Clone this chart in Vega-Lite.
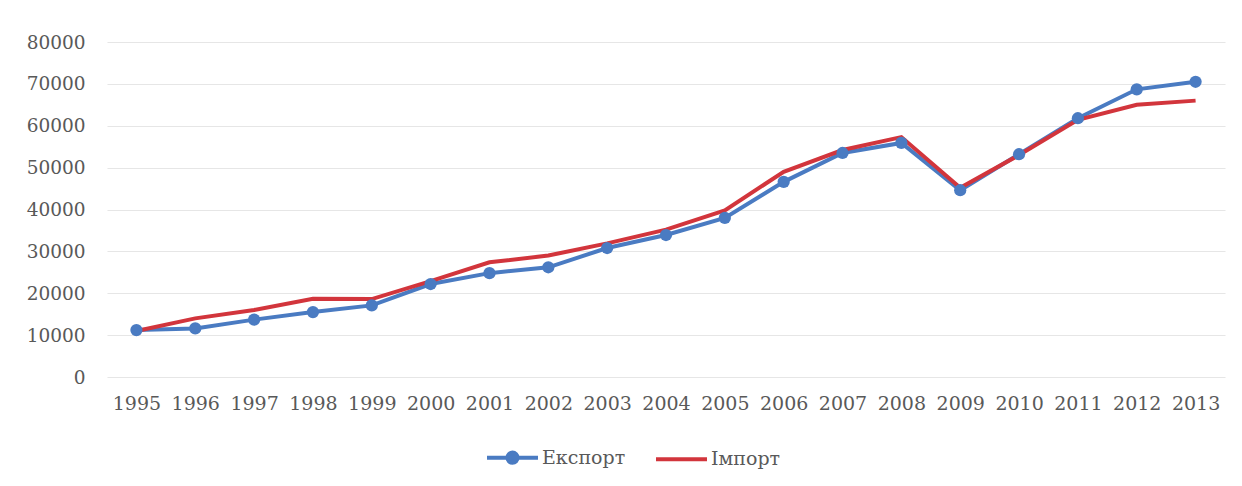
{
  "$schema": "https://vega.github.io/schema/vega-lite/v6.json",
  "autosize": "none",
  "width": 1118,
  "height": 335,
  "padding": {"left": 107, "top": 42, "right": 17, "bottom": 109},
  "background": "white",
  "data": {
    "values": [
      {"year": "1995", "series": "Експорт", "value": 11200},
      {"year": "1996", "series": "Експорт", "value": 11600},
      {"year": "1997", "series": "Експорт", "value": 13700},
      {"year": "1998", "series": "Експорт", "value": 15500},
      {"year": "1999", "series": "Експорт", "value": 17100},
      {"year": "2000", "series": "Експорт", "value": 22200},
      {"year": "2001", "series": "Експорт", "value": 24800},
      {"year": "2002", "series": "Експорт", "value": 26200},
      {"year": "2003", "series": "Експорт", "value": 30800},
      {"year": "2004", "series": "Експорт", "value": 33900},
      {"year": "2005", "series": "Експорт", "value": 38000},
      {"year": "2006", "series": "Експорт", "value": 46600},
      {"year": "2007", "series": "Експорт", "value": 53500},
      {"year": "2008", "series": "Експорт", "value": 55900},
      {"year": "2009", "series": "Експорт", "value": 44600},
      {"year": "2010", "series": "Експорт", "value": 53200},
      {"year": "2011", "series": "Експорт", "value": 61800},
      {"year": "2012", "series": "Експорт", "value": 68700},
      {"year": "2013", "series": "Експорт", "value": 70500},
      {"year": "1995", "series": "Імпорт", "value": 11000},
      {"year": "1996", "series": "Імпорт", "value": 14000},
      {"year": "1997", "series": "Імпорт", "value": 16000},
      {"year": "1998", "series": "Імпорт", "value": 18700},
      {"year": "1999", "series": "Імпорт", "value": 18600},
      {"year": "2000", "series": "Імпорт", "value": 22900},
      {"year": "2001", "series": "Імпорт", "value": 27400},
      {"year": "2002", "series": "Імпорт", "value": 29000},
      {"year": "2003", "series": "Імпорт", "value": 31900},
      {"year": "2004", "series": "Імпорт", "value": 35200},
      {"year": "2005", "series": "Імпорт", "value": 39800},
      {"year": "2006", "series": "Імпорт", "value": 49000},
      {"year": "2007", "series": "Імпорт", "value": 54200},
      {"year": "2008", "series": "Імпорт", "value": 57300},
      {"year": "2009", "series": "Імпорт", "value": 45200},
      {"year": "2010", "series": "Імпорт", "value": 53000},
      {"year": "2011", "series": "Імпорт", "value": 61400},
      {"year": "2012", "series": "Імпорт", "value": 65000},
      {"year": "2013", "series": "Імпорт", "value": 66000}
    ]
  },
  "encoding": {
    "x": {
      "field": "year",
      "type": "ordinal",
      "scale": {"type": "point", "padding": 0.5},
      "axis": {
        "title": null,
        "labelAngle": 0,
        "domain": false,
        "ticks": false,
        "labelPadding": 17,
        "labelOverlap": false,
        "labelFont": "DejaVu Serif",
        "labelFontSize": 19,
        "labelColor": "#595959"
      }
    },
    "y": {
      "field": "value",
      "type": "quantitative",
      "scale": {"domain": [0, 80000], "nice": false},
      "axis": {
        "title": null,
        "values": [0, 10000, 20000, 30000, 40000, 50000, 60000, 70000, 80000],
        "format": "d",
        "domain": false,
        "ticks": false,
        "labelPadding": 22,
        "labelFont": "DejaVu Serif",
        "labelFontSize": 18.5,
        "labelColor": "#595959",
        "grid": true,
        "gridColor": "#E6E6E6",
        "gridWidth": 1.2
      }
    },
    "color": {
      "field": "series",
      "type": "nominal",
      "scale": {"domain": ["Експорт", "Імпорт"], "range": ["#4A7BC2", "#D2353C"]},
      "legend": {
        "title": null,
        "orient": "none",
        "direction": "horizontal",
        "legendX": 378,
        "legendY": 388,
        "labelFont": "DejaVu Serif",
        "labelFontSize": 19,
        "labelColor": "#595959",
        "labelOffset": 2,
        "columnPadding": 22,
        "symbolSize": 2600,
        "symbolStrokeWidth": 4,
        "encode": {
          "symbols": {
            "update": {
              "shape": {"signal": "datum.value === 'Експорт' ? 'M-1,0H1M0.2,0A0.2,0.2,0,1,1,-0.2,0A0.2,0.2,0,1,1,0.2,0Z' : 'M-1,0H1'"},
              "fill": {"scale": "color", "field": "value"},
              "stroke": {"scale": "color", "field": "value"},
              "strokeWidth": {"value": 4},
              "size": {"value": 2600}
            }
          }
        }
      }
    }
  },
  "layer": [
    {
      "mark": {"type": "line", "strokeWidth": 4}
    },
    {
      "transform": [{"filter": "datum.series === 'Експорт'"}],
      "mark": {"type": "point", "filled": true, "size": 150, "opacity": 1, "shape": "circle"}
    }
  ],
  "config": {
    "view": {"stroke": null},
    "font": "DejaVu Serif"
  }
}
